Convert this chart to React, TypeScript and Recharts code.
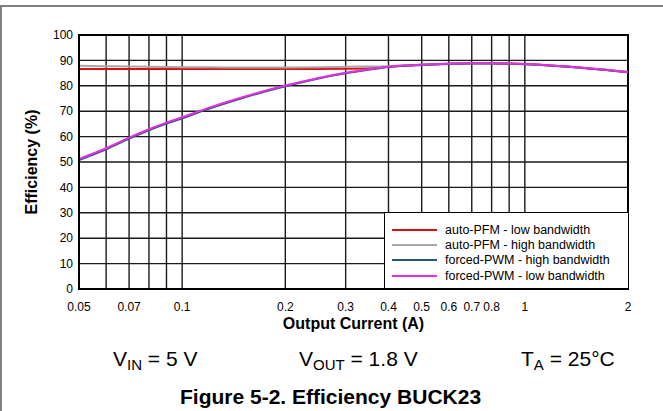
import React from "react";
import {
  LineChart,
  Line,
  XAxis,
  YAxis,
  CartesianGrid,
  ReferenceArea,
} from "recharts";

// output current (A)
const currents = [0.05, 0.06, 0.07, 0.08, 0.09, 0.1, 0.12, 0.15, 0.2, 0.25, 0.3, 0.35, 0.4, 0.5, 0.6, 0.7, 0.8, 0.9, 1, 1.5, 2];

// efficiency (%)
const autoPfmLow = [86.6, 86.6, 86.6, 86.6, 86.6, 86.6, 86.6, 86.6, 86.6, 86.6, 86.7, 86.9, 87.5, 88.3, 88.7, 88.9, 88.9, 88.8, 88.6, 87.0, 85.4];
const autoPfmHigh = [87.9, 87.7, 87.6, 87.5, 87.4, 87.3, 87.3, 87.2, 87.2, 87.3, 87.5, 87.6, 87.7, 88.3, 88.7, 88.9, 88.9, 88.8, 88.6, 87.0, 85.4];
const forcedPwmHigh = [50.8, 55.0, 59.2, 62.5, 65.1, 67.2, 71.0, 75.2, 79.8, 82.9, 84.9, 86.3, 87.4, 88.2, 88.6, 88.8, 88.8, 88.7, 88.5, 86.9, 85.3];
const forcedPwmLow = [51.2, 55.4, 59.6, 62.9, 65.5, 67.6, 71.4, 75.5, 80.1, 83.1, 85.1, 86.5, 87.5, 88.3, 88.7, 88.9, 88.9, 88.8, 88.6, 87.0, 85.4];

const xTicks = [0.05, 0.06, 0.07, 0.08, 0.09, 0.1, 0.2, 0.3, 0.4, 0.5, 0.6, 0.7, 0.8, 0.9, 1, 2];
const xLabeled = [0.05, 0.07, 0.1, 0.2, 0.3, 0.4, 0.5, 0.6, 0.7, 0.8, 1, 2];
const yTicks = [0, 10, 20, 30, 40, 50, 60, 70, 80, 90, 100];

const series = [
  { key: "autoLow", name: "auto-PFM - low bandwidth", color: "#e01010", values: autoPfmLow },
  { key: "autoHigh", name: "auto-PFM - high bandwidth", color: "#a8a8a8", values: autoPfmHigh },
  { key: "forcedHigh", name: "forced-PWM - high bandwidth", color: "#235a78", values: forcedPwmHigh },
  { key: "forcedLow", name: "forced-PWM - low bandwidth", color: "#e030e0", values: forcedPwmLow },
];

const data = currents.map((x, i) => {
  const row: Record<string, number> = { x };
  series.forEach((s) => (row[s.key] = s.values[i]));
  return row;
});

const FONT = "Arial, 'Liberation Sans', sans-serif";

function LegendBox() {
  return (
    <div
      style={{
        position: "absolute",
        left: 384,
        top: 212,
        width: 245,
        height: 77,
        border: "1.5px solid #000",
        background: "#fff",
        padding: "9px 0 0 0",
        boxSizing: "border-box",
        fontFamily: FONT,
        fontSize: 12.5,
        color: "#000",
      }}
    >
      {series.map((s) => (
        <div key={s.key} style={{ display: "flex", alignItems: "center", height: 15.3 }}>
          <div style={{ width: 45, height: 2, background: s.color, marginLeft: 7, marginRight: 8 }} />
          <span style={{ whiteSpace: "nowrap" }}>{s.name}</span>
        </div>
      ))}
    </div>
  );
}

const subStyle = { fontSize: 15, verticalAlign: "-4px" };

export default function App() {
  return (
    <div style={{ position: "absolute", left: 0, top: 0, width: 663, height: 411, background: "#fff", fontFamily: FONT }}>
      <div
        style={{
          position: "absolute",
          left: 0,
          top: 5,
          width: 663,
          height: 406,
          borderTop: "2px solid #808080",
          borderLeft: "2px solid #808080",
          boxSizing: "border-box",
        }}
      />
      <div style={{ position: "absolute", left: 0, top: 0 }}>
        <LineChart width={663} height={334} data={data} margin={{ top: 35, right: 35, bottom: 0, left: 0 }}>
          <CartesianGrid stroke="#1a1a1a" strokeWidth={1.4} />
          <XAxis
            dataKey="x"
            type="number"
            scale="log"
            domain={[0.05, 2]}
            ticks={xTicks}
            interval={0}
            allowDataOverflow
            height={45}
            tickLine={false}
            tickSize={6}
            tickMargin={7}
            axisLine={{ stroke: "#000", strokeWidth: 2 }}
            tick={{ fill: "#000", fontSize: 12, fontFamily: FONT }}
            tickFormatter={(v: number) => (xLabeled.includes(v) ? String(v) : "")}
            label={{
              value: "Output Current (A)",
              position: "insideBottom",
              offset: 5,
              style: { fill: "#000", fontSize: 16, fontWeight: "bold", fontFamily: FONT },
            }}
          />
          <YAxis
            type="number"
            domain={[0, 100]}
            ticks={yTicks}
            interval={0}
            width={79}
            tickLine={false}
            tickSize={4}
            tickMargin={2}
            axisLine={{ stroke: "#000", strokeWidth: 2 }}
            tick={{ fill: "#000", fontSize: 12, fontFamily: FONT }}
            label={{
              value: "Efficiency (%)",
              angle: -90,
              position: "insideLeft",
              offset: 31,
              style: { textAnchor: "middle", fill: "#000", fontSize: 16, fontWeight: "bold", fontFamily: FONT },
            }}
          />
          <ReferenceArea x1={0.05} x2={2} y1={0} y2={100} fill="none" stroke="#000" strokeWidth={2} />
          {series.map((s) => (
            <Line
              key={s.key}
              dataKey={s.key}
              name={s.name}
              type="monotone"
              stroke={s.color}
              strokeWidth={2}
              dot={false}
              isAnimationActive={false}
            />
          ))}
        </LineChart>
      </div>
      <LegendBox />
      <div style={{ position: "absolute", left: 113, top: 347, fontSize: 21, color: "#000", whiteSpace: "nowrap" }}>
        V<sub style={subStyle}>IN</sub> = 5 V
      </div>
      <div style={{ position: "absolute", left: 299, top: 347, fontSize: 21, color: "#000", whiteSpace: "nowrap" }}>
        V<sub style={subStyle}>OUT</sub> = 1.8 V
      </div>
      <div style={{ position: "absolute", left: 521, top: 347, fontSize: 21, color: "#000", whiteSpace: "nowrap" }}>
        T<sub style={subStyle}>A</sub> = 25°C
      </div>
      <div
        style={{
          position: "absolute",
          left: 180,
          top: 385,
          fontSize: 21,
          fontWeight: "bold",
          color: "#000",
          whiteSpace: "nowrap",
        }}
      >
        Figure 5-2. Efficiency BUCK23
      </div>
    </div>
  );
}
